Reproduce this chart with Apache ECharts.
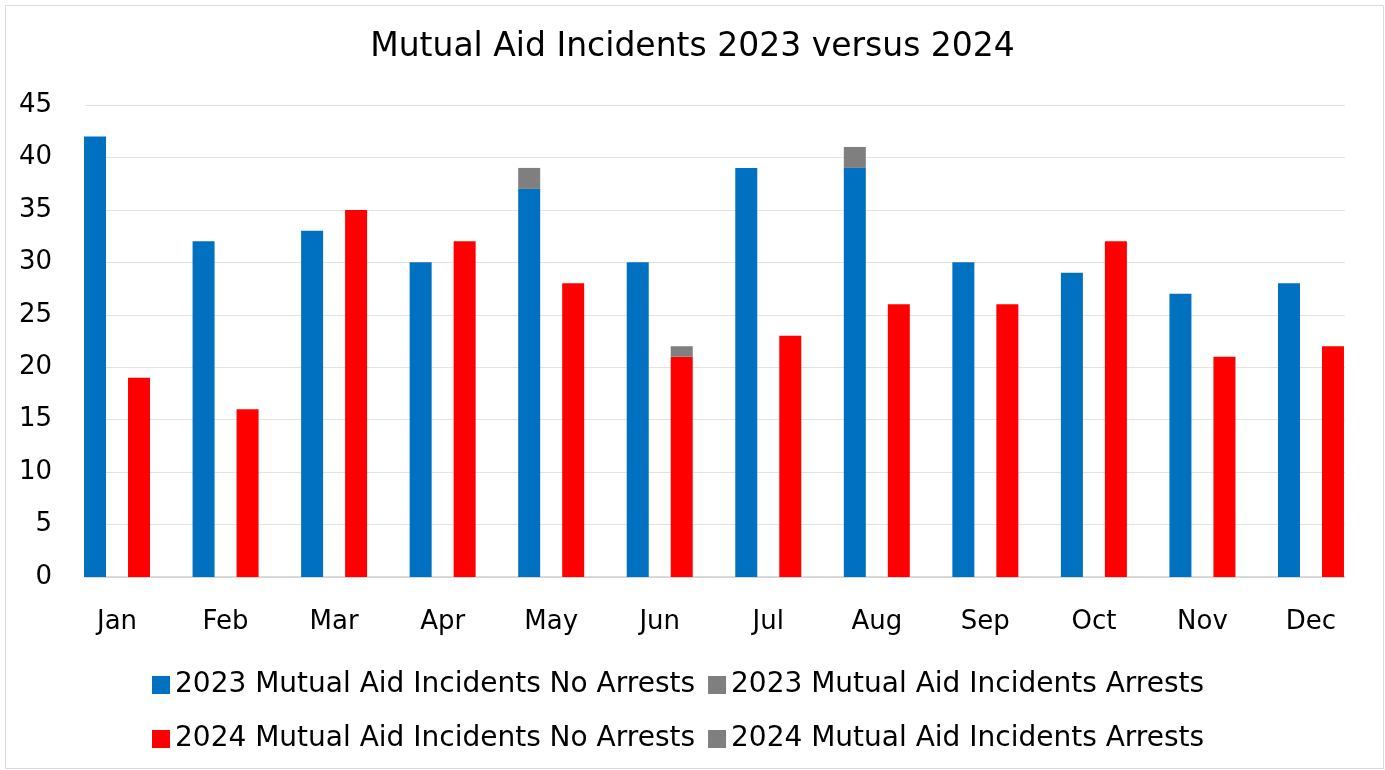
<!DOCTYPE html>
<html>
<head>
<meta charset="utf-8">
<script src="https://cdn.jsdelivr.net/npm/echarts@6/dist/echarts.min.js"></script>
<style>
html,body{margin:0;padding:0;background:#fff;}
#c{width:1385px;height:770px;}
</style>
</head>
<body>
<div id="c"></div>
<script>
const categories = ['Jan','Feb','Mar','Apr','May','Jun','Jul','Aug','Sep','Oct','Nov','Dec'];
const noArrests2023 = [42,32,33,30,37,30,39,39,30,29,27,28];
const arrests2023   = [0,0,0,0,2,0,0,2,0,0,0,0];
const noArrests2024 = [19,16,35,32,28,21,23,26,26,32,21,22];
const arrests2024   = [0,0,0,0,0,1,0,0,0,0,0,0];
const seriesNames = [
  '2023 Mutual Aid Incidents No Arrests',
  '2023 Mutual Aid Incidents Arrests',
  '2024 Mutual Aid Incidents No Arrests',
  '2024 Mutual Aid Incidents Arrests'
];
const FONT = 'DejaVu Sans';
const chart = echarts.init(document.getElementById('c'));
const plotTop = 105, plotBottom = 770 - 577;
chart.setOption({
  animation: false,
  textStyle: {fontFamily: FONT},
  graphic: [{
    type: 'rect', left: 3, top: 3, shape: {width: 1378, height: 763},
    style: {fill: 'none', stroke: '#d9d9d9', lineWidth: 1}, silent: true, z: -10
  }],
  title: {
    text: 'Mutual Aid Incidents 2023 versus 2024',
    left: 'center', top: 26,
    textStyle: {fontFamily: FONT, fontSize: 33, fontWeight: 'normal', color: '#000'}
  },
  legend: [{
    data: [seriesNames[0], seriesNames[1]],
    left: 147, top: 666, itemWidth: 18, itemHeight: 18, itemGap: 13,
    icon: 'rect',
    textStyle: {fontFamily: FONT, fontSize: 28, color: '#000'}
  },{
    data: [seriesNames[2], seriesNames[3]],
    left: 147, top: 720, itemWidth: 18, itemHeight: 18, itemGap: 13,
    icon: 'rect',
    textStyle: {fontFamily: FONT, fontSize: 28, color: '#000'}
  }],
  grid: [
    {left: 85, right: 1385 - 1345, top: plotTop, bottom: plotBottom},
    {left: 117 - 54.25, right: 1385 - (1311 + 54.25), top: plotTop, bottom: plotBottom}
  ],
  xAxis: [{
    type: 'category', gridIndex: 0, data: categories,
    axisLine: {show: true, lineStyle: {color: '#d0d0d0', width: 1.5}},
    axisTick: {show: false}, axisLabel: {show: false}, splitLine: {show: false}
  },{
    type: 'category', gridIndex: 1, data: categories,
    axisLine: {show: false}, axisTick: {show: false},
    axisLabel: {fontFamily: FONT, fontSize: 26, color: '#000', margin: 32}
  }],
  yAxis: [{
    type: 'value', gridIndex: 0, min: 0, max: 45, interval: 5,
    axisLine: {show: false}, axisTick: {show: false},
    axisLabel: {fontFamily: FONT, fontSize: 26, color: '#000', margin: 33},
    splitLine: {lineStyle: {color: '#e3e3e3', width: 1.2}}
  },{
    type: 'value', gridIndex: 1, min: 0, max: 45, interval: 5, show: false,
    splitLine: {show: false}
  }],
  series: [
    {name: seriesNames[0], type: 'bar', stack: 'y2023', xAxisIndex: 1, yAxisIndex: 1,
     data: noArrests2023, itemStyle: {color: '#0070C0'}, barWidth: 22, barGap: '100%'},
    {name: seriesNames[1], type: 'bar', stack: 'y2023', xAxisIndex: 1, yAxisIndex: 1,
     data: arrests2023, itemStyle: {color: '#7F7F7F'}, barWidth: 22, barGap: '100%'},
    {name: seriesNames[2], type: 'bar', stack: 'y2024', xAxisIndex: 1, yAxisIndex: 1,
     data: noArrests2024, itemStyle: {color: '#FF0000'}, barWidth: 22, barGap: '100%'},
    {name: seriesNames[3], type: 'bar', stack: 'y2024', xAxisIndex: 1, yAxisIndex: 1,
     data: arrests2024, itemStyle: {color: '#7F7F7F'}, barWidth: 22, barGap: '100%'}
  ]
});
</script>
</body>
</html>
